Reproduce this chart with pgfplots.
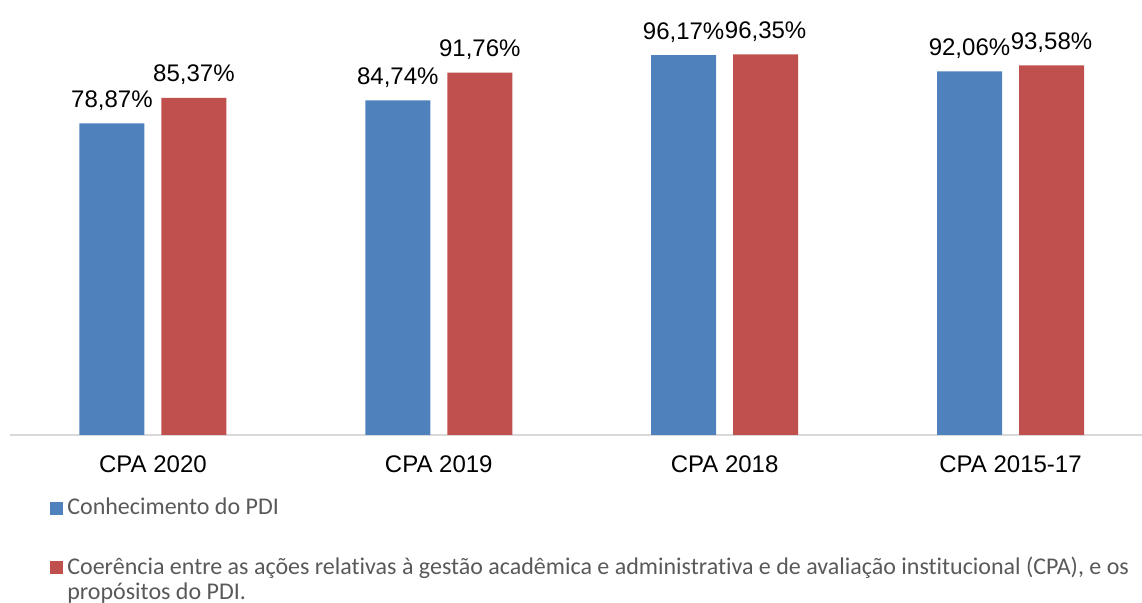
\documentclass[border=0pt]{standalone}
\usepackage{fontspec}
\setmainfont{Liberation Sans}
\newfontfamily\calibri[Ligatures=NoCommon]{Carlito}
\usepackage{pgfplots}
\pgfplotsset{compat=1.18}
\definecolor{barBlue}{HTML}{4F81BD}
\definecolor{barRed}{HTML}{C0504D}
\definecolor{legGray}{HTML}{595959}
\definecolor{axGray}{HTML}{D9D9D9}
% marker for the two-line entry, aligned with its first line
\pgfplotsset{firstlinemark/.style={legend image code/.code={\fill[##1] (0pt,12.5pt) rectangle (6.5pt,19pt);}}}

\begin{document}
\begin{tikzpicture}
\path[use as bounding box] (-5pt,-84pt) rectangle (566pt,217.4pt);
\begin{axis}[
  name=ax, at={(0,0)}, anchor=south west,
  scale only axis, width=566pt, height=217.1pt,
  ybar=8.5pt, bar width=32.5pt,
  xmin=-0.5, xmax=3.46, ymin=0, ymax=110,
  axis x line*=bottom, axis y line=none,
  axis line style={color=axGray, line width=1pt},
  xtick={0,1,2,3}, xticklabels={CPA 2020, CPA 2019, CPA 2018, CPA 2015-17},
  major tick length=0pt,
  xticklabel style={font=\fontsize{12}{14}\selectfont, yshift=-7pt},
  /pgf/number format/assume math mode=true,
  nodes near coords={\pgfmathprintnumber[fixed,fixed zerofill,precision=2,use comma]{\pgfplotspointmeta}\%},
  nodes near coords style={font=\fontsize{12}{14}\selectfont, color=black, yshift=3pt},
  clip=false,
  legend image code/.code={\fill[#1] (0pt,0pt) rectangle (6.5pt,6.5pt);},
  legend style={at={(axis description cs:0.0353,0)}, anchor=north west, yshift=-29.5pt,
    draw=none, fill=none, inner sep=0pt, row sep=15.5pt,
    font=\calibri\fontsize{12}{12.5}\selectfont, text=legGray,
    cells={anchor=base west, align=left}},
]
\addplot[fill=barBlue, draw=none] coordinates {(0,78.87) (1,84.74) (2,96.17) (3,92.06)};
\addplot[fill=barRed, draw=none, firstlinemark]
  coordinates {(0,85.37) (1,91.76) (2,96.35) (3,93.58)};
\addlegendentry{Conhecimento do PDI}
\addlegendentry{Coerência entre as ações relativas à gestão acadêmica e administrativa e de avaliação institucional (CPA), e os\\propósitos do PDI.}
\end{axis}
\end{tikzpicture}
\end{document}
